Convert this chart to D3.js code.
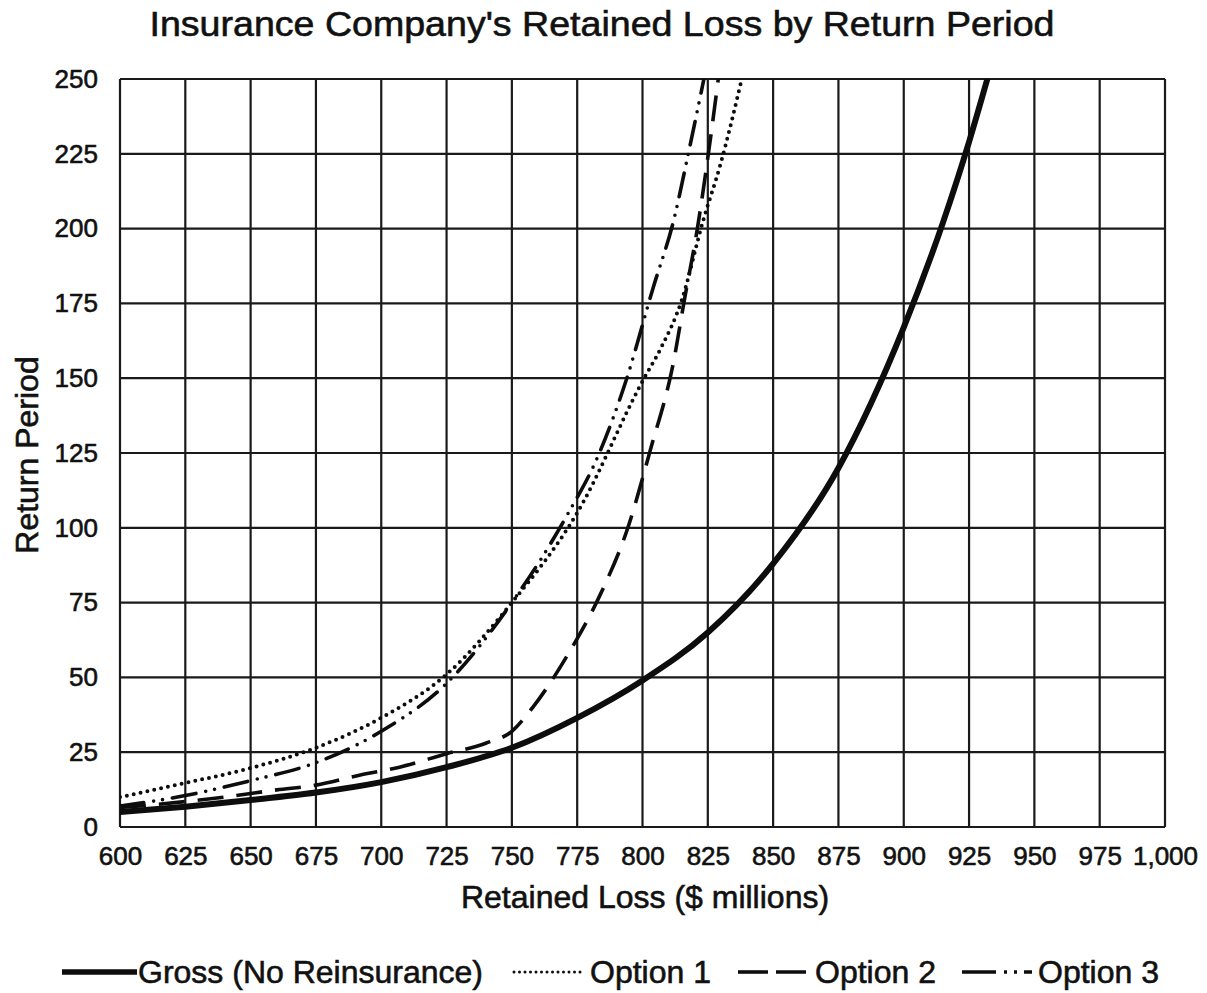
<!DOCTYPE html>
<html><head><meta charset="utf-8">
<script src="https://cdn.jsdelivr.net/npm/d3@7"></script>
<style>
body{margin:0;background:#fff;}
text{font-family:"Liberation Sans",Arial,sans-serif;fill:#111;stroke:#111;stroke-width:0.6px;}
</style></head>
<body><svg id="c" width="1207" height="993"></svg>
<script>
const titleText = "Insurance Company's Retained Loss by Return Period";
const xTitle = "Retained Loss ($ millions)";
const yTitle = "Return Period";
const xTicks = [600,625,650,675,700,725,750,775,800,825,850,875,900,925,950,975,1000];
const yTicks = [0,25,50,75,100,125,150,175,200,225,250];
const seriesNames = ["Gross (No Reinsurance)","Option 1","Option 2","Option 3"];

const grossX = [600,625,650,675,700,725,750,775,800,825,850,875,900,915,925,932];
const grossY = [5,6.8,9,11.5,15,20,26.5,36.5,49,65,88,120,167,202,229,250];

const opt1X = [600,625,650,675,700,725,750,775,800,807,815,823,830,838];
const opt1Y = [10,14.7,19.7,26.5,36.5,51,75,105,149,160,176,202,222,250];

const opt2X = [600,625,640,660,675,692,707,725,740,750,758,771,784,794,803,812,816,821,826,829];
const opt2Y = [6.5,8.5,10,12.4,14,17.4,20,24.5,28,32,40,57,78,99,126,156,176,200,230,250];

const opt3X = [600,625,650,675,700,725,750,771,783,794,804,812,818,823.5];
const opt3Y = [7,10.5,15.5,21.5,32,48,75,104,124,150,180,203,227,250];

const svg = d3.select("#c");
const L=120, R=1165, T=79, B=827;
const x = d3.scaleLinear().domain([600,1000]).range([L,R]);
const y = d3.scaleLinear().domain([0,250]).range([B,T]);

// grid
svg.append("g").selectAll("line").data(xTicks).join("line")
  .attr("x1",d=>x(d)).attr("x2",d=>x(d)).attr("y1",T).attr("y2",B)
  .attr("stroke","#1a1a1a").attr("stroke-width",2.2);
svg.append("g").selectAll("line").data(yTicks).join("line")
  .attr("y1",d=>y(d)).attr("y2",d=>y(d)).attr("x1",L).attr("x2",R)
  .attr("stroke","#1a1a1a").attr("stroke-width",2.2);

// axes labels
const fmt = d3.format(",");
const xAxis = d3.axisBottom(x).tickValues(xTicks).tickFormat(fmt).tickSize(0).tickPadding(20);
const gx = svg.append("g").attr("transform",`translate(0,${B})`).call(xAxis);
gx.select(".domain").remove();
gx.selectAll("text").attr("font-size",26).attr("fill","#111").style("font-family","Liberation Sans, Arial, sans-serif");
const yAxis = d3.axisLeft(y).tickValues(yTicks).tickSize(0).tickPadding(22);
const gy = svg.append("g").attr("transform",`translate(${L},0)`).call(yAxis);
gy.select(".domain").remove();
gy.selectAll("text").attr("font-size",26).attr("fill","#111").style("font-family","Liberation Sans, Arial, sans-serif");

// titles
svg.append("text").attr("x",602).attr("y",36).attr("text-anchor","middle").attr("font-size",35)
  .attr("textLength",905).attr("lengthAdjust","spacingAndGlyphs").text(titleText);
svg.append("text").attr("x",645).attr("y",908).attr("text-anchor","middle").attr("font-size",32).text(xTitle);
svg.append("text").attr("transform","translate(38,455) rotate(-90)").attr("text-anchor","middle").attr("font-size",32).text(yTitle);

// clip
svg.append("clipPath").attr("id","pc").append("rect").attr("x",L).attr("y",T).attr("width",R-L).attr("height",B-T);

const styles = [
  {w:6, dash:null, cap:"round"},
  {w:4, dash:"0,7", cap:"round"},
  {w:3.6, dash:"26,13", cap:"butt"},
  {w:3.6, dash:"24,10,0,9,0,10", cap:"round"}
];
const data = [
  d3.zip(grossX,grossY), d3.zip(opt1X,opt1Y), d3.zip(opt2X,opt2Y), d3.zip(opt3X,opt3Y)
];
const line = d3.line().x(d=>x(d[0])).y(d=>y(d[1])).curve(d3.curveMonotoneX);
const pg = svg.append("g").attr("clip-path","url(#pc)");
[3,2,1,0].forEach(i=>{
  pg.append("path").datum(data[i]).attr("d",line).attr("fill","none")
    .attr("stroke","#0d0d0d").attr("stroke-width",styles[i].w)
    .attr("stroke-linecap",styles[i].cap)
    .attr("stroke-dasharray",styles[i].dash);
});

// legend
const legY = 972;
const leg = [
  {x1:62,x2:137,tx:138},
  {x1:514,x2:582,tx:590},
  {x1:738,x2:812,tx:815},
  {x1:962,x2:1032,tx:1038}
];
leg.forEach((l,i)=>{
  svg.append("line").attr("x1",l.x1).attr("x2",l.x2).attr("y1",legY).attr("y2",legY)
    .attr("stroke","#0d0d0d").attr("stroke-width",i===0?5.5:(i===1?3:3.6))
    .attr("stroke-linecap",i===1?"round":"butt")
    .attr("stroke-dasharray", i===0?null:(i===1?"0,5.5":(i===2?"30,8":"34,8,3,7,3,7")));
  svg.append("text").attr("x",l.tx).attr("y",legY+11).attr("font-size",32).text(seriesNames[i]);
});
</script></body></html>
